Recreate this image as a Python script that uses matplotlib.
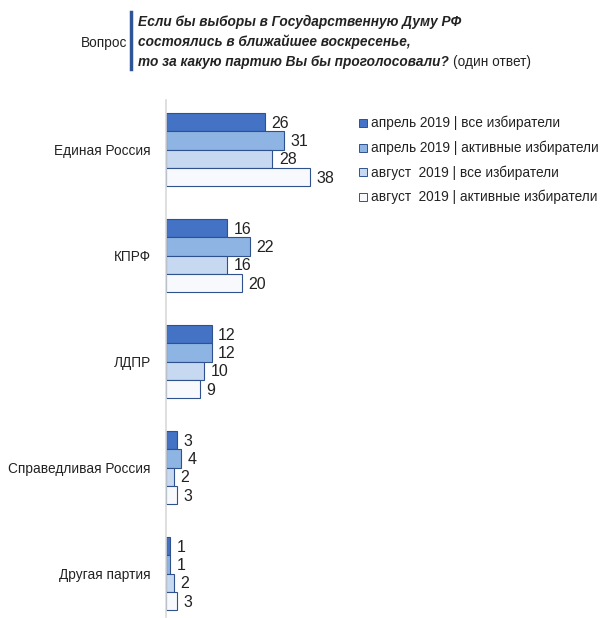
import numpy as np
import matplotlib.pyplot as plt
from matplotlib.patches import Rectangle

plt.rcParams['font.family'] = ['Liberation Sans', 'DejaVu Sans']

parties = ['Единая Россия', 'КПРФ', 'ЛДПР', 'Справедливая Россия', 'Другая партия']
seriesNames = ['апрель 2019 | все избиратели',
               'апрель 2019 | активные избиратели',
               'август  2019 | все избиратели',
               'август  2019 | активные избиратели']
aprAll = [26, 16, 12, 3, 1]
aprActive = [31, 22, 12, 4, 1]
augAll = [28, 16, 10, 2, 2]
augActive = [38, 20, 9, 3, 3]
values = [aprAll, aprActive, augAll, augActive]

colors = ['#4472C4', '#8EB4E3', '#C6D9F1', '#F7F9FD']
edge = '#2F528F'
numFont = ['Liberation Sans Narrow', 'Liberation Sans', 'DejaVu Sans']

fig = plt.figure(figsize=(6.01, 6.18), dpi=100)
W, H = 601, 618

# axes: x from 166px to right edge, y from 100px to 617px
ax = fig.add_axes([166 / W, 1 - 617 / H, 1 - 166 / W, (617 - 100) / H])
pxPerUnit = 3.8
ax.set_xlim(0, (W - 166) / pxPerUnit)
step = 106.0
ax.set_ylim((617 - 149.5) / step, -(149.5 - 100) / step)

barH = 18.3 / step
y = np.arange(len(parties))
for i, vals in enumerate(values):
    pos = y + (i - 1.5) * barH
    ax.barh(pos, vals, height=barH, color=colors[i], edgecolor=edge, linewidth=0.8)
    for p, v in zip(pos, vals):
        ax.text(v + 1.7, p + 0.01, str(v), va='center', ha='left', fontsize=11.5,
                family=numFont, color='#222222')

ax.set_yticks(y)
ax.set_yticklabels(parties, fontsize=9.8, color='#222222')
ax.tick_params(axis='y', length=0, pad=11)
ax.set_xticks([])
for s in ['top', 'right', 'bottom']:
    ax.spines[s].set_visible(False)
ax.spines['left'].set_color('#D9D9D9')
ax.spines['left'].set_linewidth(1.2)

# legend
for i, name in enumerate(seriesNames):
    yy = 1 - (123 + 24.7 * i) / H
    fig.patches.append(Rectangle((359 / W, yy - 4 / H), 8 / W, 8 / H, transform=fig.transFigure,
                                 facecolor=colors[i], edgecolor=edge, linewidth=0.7))
    fig.text(371 / W, yy, name, fontsize=9.8, va='center', ha='left', color='#222222')

# question header
fig.text(127 / W, 1 - 43 / H, 'Вопрос', fontsize=9.8, ha='right', va='center', color='#222222')
fig.add_artist(plt.Line2D([131 / W, 131 / W], [1 - 12 / H, 1 - 69 / H], color='#2F5597', linewidth=2.5))
fig.text(138 / W, 1 - 22 / H, 'Если бы выборы в Государственную Думу РФ', fontsize=9.8,
         fontweight='bold', fontstyle='italic', ha='left', va='center', color='#222222')
fig.text(138 / W, 1 - 42 / H, 'состоялись в ближайшее воскресенье,', fontsize=9.8,
         fontweight='bold', fontstyle='italic', ha='left', va='center', color='#222222')
t = fig.text(138 / W, 1 - 62 / H, 'то за какую партию Вы бы проголосовали?', fontsize=9.8,
             fontweight='bold', fontstyle='italic', ha='left', va='center', color='#222222')
fig.canvas.draw()
bb = t.get_window_extent()
fig.text((bb.x1 + 4) / W, 1 - 62 / H, '(один ответ)', fontsize=9.8, ha='left', va='center', color='#222222')

fig.savefig('out.png', dpi=100)
